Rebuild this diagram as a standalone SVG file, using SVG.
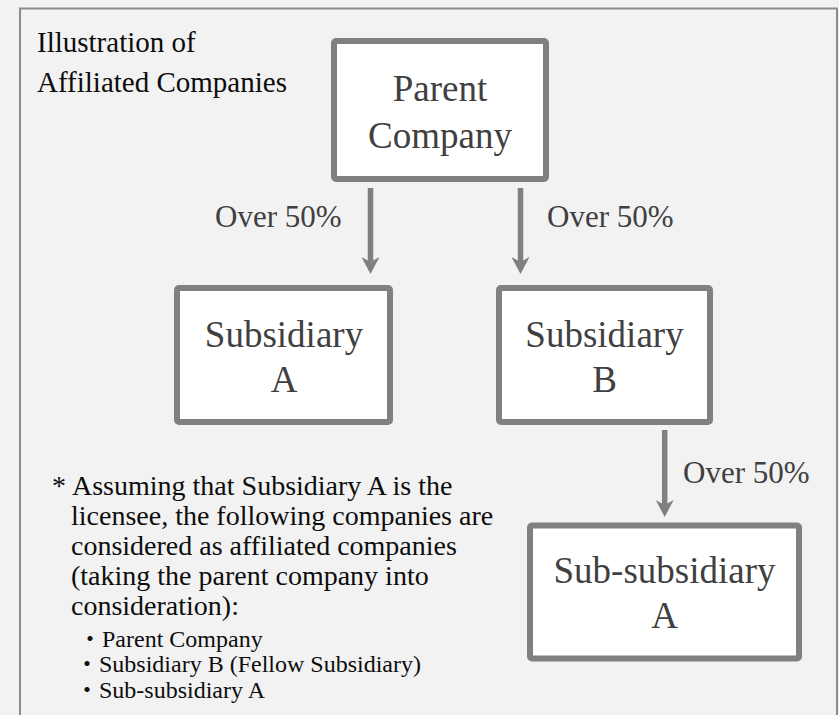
<svg xmlns="http://www.w3.org/2000/svg" width="839" height="715" viewBox="0 0 839 715">
<style>
.box{fill:#ffffff;stroke:#808080;stroke-width:6;}
.nt{font-family:"Liberation Serif","Times New Roman",serif;font-size:37px;fill:#404040;text-anchor:middle;}
.lbl{font-family:"Liberation Serif","Times New Roman",serif;font-size:31px;fill:#404040;}
.title{font-family:"Liberation Serif","Times New Roman",serif;font-size:29px;fill:#0d0d0d;}
.note{font-family:"Liberation Serif","Times New Roman",serif;font-size:28px;fill:#0d0d0d;}
.bul{font-family:"Liberation Serif","Noto Sans CJK JP",serif;font-size:24px;fill:#0d0d0d;}
.con{stroke:#808080;stroke-width:5.5;fill:none;}
</style>
<defs>
<marker id="arr" viewBox="0 -9 17 18" refX="9" refY="0" markerWidth="17" markerHeight="18" markerUnits="userSpaceOnUse" orient="auto">
<path d="M0,-9 L17,0 L0,9 L5,0 Z" fill="#808080"/>
</marker>
</defs>
<rect x="0" y="0" width="839" height="715" fill="#f2f2f2"/>
<rect id="frame" x="20" y="8.5" width="817" height="720" fill="#f2f2f2" stroke="#8c8c8c" stroke-width="2"/>
<g id="title">
<text class="title" x="37" y="52">Illustration of</text>
<text class="title" x="37" y="92">Affiliated Companies</text>
</g>
<g id="connectors">
<path class="con" d="M370.5,188 L370.5,266" marker-end="url(#arr)"/>
<path class="con" d="M520.5,188 L520.5,266" marker-end="url(#arr)"/>
<path class="con" d="M664.7,430 L664.7,509" marker-end="url(#arr)"/>
<text class="lbl" x="215" y="227">Over 50%</text>
<text class="lbl" x="547" y="227">Over 50%</text>
<text class="lbl" x="683" y="483">Over 50%</text>
</g>
<g id="parent">
<rect class="box" x="334" y="41" width="212" height="138" rx="2"/>
<text class="nt" x="440" y="101">Parent</text>
<text class="nt" x="440" y="148">Company</text>
</g>
<g id="subA">
<rect class="box" x="177" y="288" width="213" height="134" rx="2"/>
<text class="nt" x="284" y="347">Subsidiary</text>
<text class="nt" x="284" y="392">A</text>
</g>
<g id="subB">
<rect class="box" x="499" y="288" width="211" height="134" rx="2"/>
<text class="nt" x="604.5" y="347">Subsidiary</text>
<text class="nt" x="604.5" y="392">B</text>
</g>
<g id="subsubA">
<rect class="box" x="530" y="525.5" width="269" height="133" rx="2"/>
<text class="nt" x="664.5" y="583">Sub-subsidiary</text>
<text class="nt" x="664.5" y="628">A</text>
</g>
<g id="note">
<text class="note" x="52" y="495">*</text>
<text class="note" x="72" y="495">Assuming that Subsidiary A is the</text>
<text class="note" x="71" y="525">licensee, the following companies are</text>
<text class="note" x="71" y="555">considered as affiliated companies</text>
<text class="note" x="71" y="585">(taking the parent company into</text>
<text class="note" x="71" y="615">consideration):</text>
<text class="bul" x="78" y="647">・Parent Company</text>
<text class="bul" x="75" y="672">・Subsidiary B (Fellow Subsidiary)</text>
<text class="bul" x="75" y="698">・Sub-subsidiary A</text>
</g>
</svg>
